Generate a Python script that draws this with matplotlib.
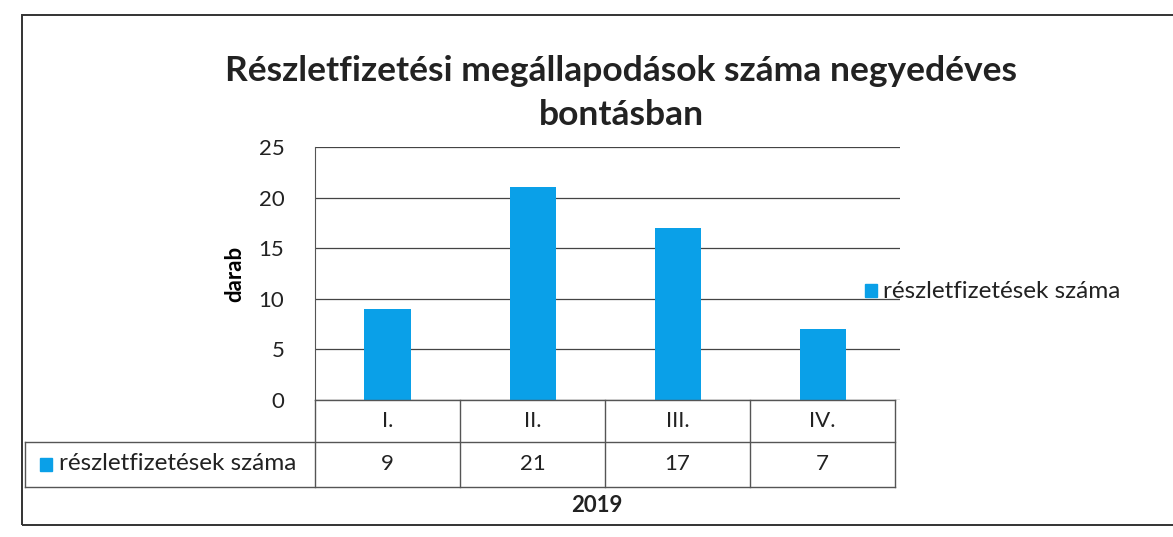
import matplotlib.pyplot as plt
from matplotlib.patches import Rectangle
from matplotlib.lines import Line2D

quarters = ["I.", "II.", "III.", "IV."]
counts = [9, 21, 17, 7]
series_name = "részletfizetések száma"
year_label = "2019"
title = "Részletfizetési megállapodások száma negyedéves\nbontásban"

BLUE = "#0aa0e8"
W, H = 1173, 537

plt.rcParams["font.family"] = ["Lato", "DejaVu Sans"]

fig = plt.figure(figsize=(W / 100, H / 100), dpi=100)

def fx(px):
    return px / W

def fy(py):
    return 1 - py / H

# outer chart frame
fig.add_artist(Rectangle((fx(22), fy(525)), fx(1200 - 22), fy(15) - fy(525),
                         fill=False, edgecolor="#333333", linewidth=1.4,
                         transform=fig.transFigure))

ax = fig.add_axes([fx(315), fy(400), fx(900) - fx(315), fy(147) - fy(400)])
x = range(len(quarters))
bars = ax.bar(x, counts, width=0.32, color=BLUE, label=series_name, zorder=3)
ax.set_xlim(-0.5, len(quarters) - 0.5 + 0.03)
ax.set_ylim(0, 25)
ax.set_yticks(range(0, 26, 5))
ax.tick_params(axis="y", length=0, labelsize=16, pad=22, colors="#222222")
ax.set_xticks([])
ax.grid(axis="y", color="#444444", linewidth=0.9, zorder=0)
for side in ["top", "right", "bottom"]:
    ax.spines[side].set_visible(False)
ax.spines["left"].set_color("#555555")
ax.set_ylabel("darab", fontsize=16, fontweight="bold", labelpad=10)

fig.suptitle(title, fontsize=25.5, fontweight="bold", y=fy(55), va="top",
             x=fx(621), linespacing=1.45, color="#222222")

# data table under the axis
col_edges = [315 + 145 * i for i in range(len(quarters) + 1)]
row_top, row_mid, row_bot = 400, 442, 487
lc = "#555555"
for y in (row_top, row_mid, row_bot):
    x0 = 315 if y == row_top else 25
    fig.add_artist(Line2D([fx(x0), fx(col_edges[-1])], [fy(y), fy(y)],
                          color=lc, linewidth=1.0))
for xe in col_edges:
    fig.add_artist(Line2D([fx(xe), fx(xe)], [fy(row_top), fy(row_bot)],
                          color=lc, linewidth=1.0))
fig.add_artist(Line2D([fx(25), fx(25)], [fy(row_mid), fy(row_bot)],
                      color=lc, linewidth=1.0))

for i, (q, c) in enumerate(zip(quarters, counts)):
    cx = fx((col_edges[i] + col_edges[i + 1]) / 2)
    fig.text(cx, fy((row_top + row_mid) / 2), q, ha="center", va="center",
             fontsize=16, color="#222222")
    fig.text(cx, fy((row_mid + row_bot) / 2), str(c), ha="center", va="center",
             fontsize=16, color="#222222")

fig.add_artist(Rectangle((fx(40), fy(471)), fx(12), fy(458) - fy(471),
                         color=BLUE, transform=fig.transFigure))
fig.text(fx(59), fy(464), series_name, ha="left", va="center", fontsize=17.5,
         color="#222222")

fig.text(fx(597), fy(505), year_label, ha="center", va="center", fontsize=16,
         fontweight="bold", color="#222222")

# legend on the right
fig.add_artist(Rectangle((fx(865), fy(297)), fx(12), fy(284) - fy(297),
                         color=BLUE, transform=fig.transFigure))
fig.text(fx(883), fy(291), series_name, ha="left", va="center", fontsize=17.5,
         color="#222222")

fig.savefig("out.png", dpi=100, facecolor="white")
